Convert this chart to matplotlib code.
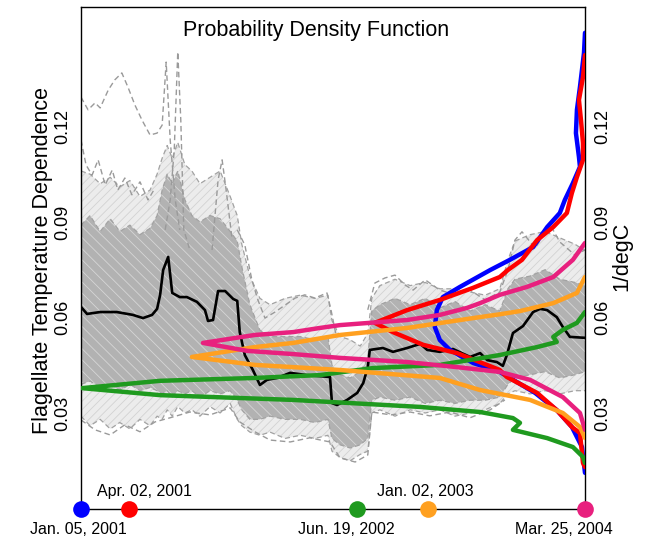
import matplotlib
matplotlib.use("Agg")
import matplotlib.pyplot as plt

plt.rcParams['font.family'] = ['Liberation Sans', 'DejaVu Sans']
plt.rcParams['hatch.linewidth'] = 0.6

# ---- ensemble envelope (time index 0..100) ----
env_x = [0, 1.8, 3.8, 5.8, 7.7, 9.7, 11.7, 13.7, 15.1, 16.1, 17.1, 18.1, 19.2, 20.6, 22.0, 23.6,
         25.6, 27.6, 29.6, 31.0, 31.9, 33.5, 35.5, 37.5, 40.5, 43.5, 46.4, 49.0, 49.8, 51.4, 53.4, 55.4,
         56.9, 57.7, 59.3, 62.3, 65.3, 68.3, 71.2, 74.2, 77.2, 80.2, 83.1, 84.7, 86.1, 89.1, 92.1, 95.0,
         98.0, 100]
outer_hi = [0.106, 0.105, 0.102, 0.104, 0.101, 0.103, 0.098, 0.100, 0.105, 0.110, 0.114, 0.110, 0.115, 0.108, 0.106, 0.102,
            0.104, 0.106, 0.098, 0.092, 0.083, 0.073, 0.066, 0.064, 0.066, 0.067, 0.066, 0.067, 0.059, 0.054, 0.053, 0.051,
            0.055, 0.066, 0.070, 0.072, 0.070, 0.071, 0.069, 0.069, 0.068, 0.067, 0.069, 0.078, 0.084, 0.086, 0.087, 0.085,
            0.083, 0.081]
core_hi = [0.089, 0.092, 0.087, 0.091, 0.087, 0.089, 0.086, 0.088, 0.092, 0.100, 0.105, 0.102, 0.106, 0.097, 0.092, 0.090,
           0.092, 0.091, 0.087, 0.084, 0.076, 0.064, 0.056, 0.054, 0.054, 0.054, 0.053, 0.054, 0.045, 0.042, 0.041, 0.043,
           0.047, 0.062, 0.064, 0.066, 0.064, 0.066, 0.063, 0.065, 0.062, 0.064, 0.062, 0.069, 0.072, 0.073, 0.075, 0.072,
           0.071, 0.070]
core_lo = [0.039, 0.040, 0.038, 0.039, 0.037, 0.039, 0.037, 0.038, 0.037, 0.036, 0.037, 0.035, 0.037, 0.036, 0.037, 0.035,
           0.037, 0.036, 0.037, 0.034, 0.031, 0.028, 0.028, 0.029, 0.028, 0.028, 0.027, 0.028, 0.022, 0.020, 0.019, 0.020,
           0.022, 0.034, 0.035, 0.034, 0.035, 0.033, 0.034, 0.033, 0.034, 0.034, 0.035, 0.039, 0.041, 0.042, 0.043, 0.041,
           0.042, 0.043]
outer_lo = [0.029, 0.026, 0.028, 0.025, 0.027, 0.025, 0.028, 0.026, 0.029, 0.028, 0.031, 0.029, 0.032, 0.030, 0.031, 0.029,
            0.032, 0.030, 0.033, 0.028, 0.026, 0.024, 0.023, 0.024, 0.022, 0.023, 0.022, 0.023, 0.018, 0.016, 0.015, 0.017,
            0.018, 0.030, 0.031, 0.029, 0.031, 0.030, 0.031, 0.029, 0.030, 0.031, 0.033, 0.036, 0.037, 0.036, 0.037, 0.036,
            0.037, 0.037]

# ---- individual dashed ensemble members that stand out ----
m1_x = [0, 1.4, 2.8, 3.8, 5.4, 6.7, 8.1, 9.3, 10.7, 12.1, 13.7, 15.1, 16.1, 16.9, 17.7, 18.7, 19.6]
m1_y = [0.1292, 0.1252, 0.1274, 0.1258, 0.1314, 0.1346, 0.1368, 0.1324, 0.1267, 0.1220, 0.1173, 0.1179, 0.1204,
        0.1402, 0.1157, 0.0969, 0.0875]
m2_x = [16.7, 17.7, 18.5, 19.2, 19.8, 20.4, 21.6]
m2_y = [0.0875, 0.0969, 0.1126, 0.1434, 0.1220, 0.0875, 0.0812]
m3_x = [26.0, 27.2, 28.0, 28.8, 30.0]
m3_y = [0.0812, 0.1032, 0.1095, 0.1000, 0.0843]
m4_x = [0, 1.0, 2.2, 3.4, 4.8, 6.2, 7.3, 8.7, 10.1, 11.7, 13.3, 14.7]
m4_y = [0.1157, 0.1079, 0.1047, 0.1095, 0.1016, 0.1063, 0.1000, 0.1038, 0.0985, 0.1026, 0.0969, 0.1007]
m5_x = [31.0, 32.5, 33.9, 35.1, 36.5, 38.5, 40.5, 42.5, 44.4, 46.4, 48.8, 49.6, 50.6]
m5_y = [0.0875, 0.0828, 0.0718, 0.0655, 0.0598, 0.0617, 0.0639, 0.0661, 0.0671, 0.0661, 0.0677, 0.0624, 0.0545]
m6_x = [0, 2.8, 5.8, 8.7, 11.7, 14.7, 17.7, 21.6, 25.6, 29.6, 31.5, 34.5, 37.5, 41.5, 45.4, 49.4, 51.4, 54.4,
        56.9, 57.7, 61.5, 65.3, 69.2, 73.2, 77.2, 81.2, 84.1]
m6_y = [0.0278, 0.0247, 0.0231, 0.0263, 0.0241, 0.0272, 0.0285, 0.0303, 0.0294, 0.0316, 0.0272, 0.0241, 0.0215,
        0.0209, 0.0222, 0.0209, 0.0159, 0.0146, 0.0168, 0.0303, 0.0294, 0.0303, 0.0291, 0.0303, 0.0285, 0.0310, 0.0341]
m7_x = [56.9, 58.3, 60.3, 62.3, 64.3, 65.9, 68.3, 71.2, 74.2, 77.2, 80.2, 83.1, 84.7, 86.1, 87.5, 90.1, 93.1,
        95.0, 98.0, 100]
m7_y = [0.0624, 0.0708, 0.0724, 0.0733, 0.0702, 0.0686, 0.0718, 0.0686, 0.0671, 0.0686, 0.0655, 0.0680, 0.0749,
        0.0843, 0.0869, 0.0818, 0.0891, 0.0837, 0.0796, 0.0812]
members = [(m1_x, m1_y), (m2_x, m2_y), (m3_x, m3_y), (m4_x, m4_y),
           (m5_x, m5_y), (m6_x, m6_y), (m7_x, m7_y)]

# ---- ensemble median (black) ----
med_x = [0.0, 1.2, 3.8, 7.1, 10.3, 12.3, 14.1, 15.1, 15.7, 16.3, 17.3, 18.1, 19.6, 21.0, 23.0, 24.6, 25.2, 26.2,
         27.2, 28.6, 30.2, 31.0, 31.5, 32.5, 34.1, 35.5, 36.9, 38.9, 41.5, 44.8, 49.4, 49.8, 50.8, 52.8, 54.8, 56.0,
         56.9, 57.3, 59.9, 61.9, 64.7, 67.3, 68.7, 71.2, 73.8, 77.2, 79.2, 80.6, 82.5, 83.7, 84.5, 85.7, 87.7, 89.7,
         91.1, 92.5, 94.4, 95.6, 97.0, 100.0]
med_y = [0.0633, 0.0611, 0.0617, 0.0617, 0.0608, 0.0598, 0.0608, 0.0627, 0.0671, 0.0749, 0.0790, 0.0677, 0.0664,
         0.0664, 0.0649, 0.0623, 0.0589, 0.0592, 0.0683, 0.0683, 0.0658, 0.0652, 0.0554, 0.0482, 0.0435, 0.0388,
         0.0404, 0.0410, 0.0426, 0.0419, 0.0413, 0.0331, 0.0325, 0.0341, 0.0363, 0.0394, 0.0444, 0.0498, 0.0504,
         0.0492, 0.0504, 0.0517, 0.0498, 0.0492, 0.0501, 0.0476, 0.0488, 0.0466, 0.0460, 0.0448, 0.0482, 0.0551,
         0.0573, 0.0617, 0.0627, 0.0623, 0.0601, 0.0570, 0.0539, 0.0536]

# ---- probability densities (relative, % of plot width) at each date ----
blue_y = [0.1494, 0.1431, 0.1324, 0.1252, 0.1179, 0.1104, 0.1073, 0.1022, 0.0969, 0.0928, 0.0884, 0.0821, 0.0781,
          0.0749, 0.0696, 0.0664, 0.0623, 0.0570, 0.0529, 0.0498, 0.0457, 0.0429, 0.0363, 0.0309, 0.0256, 0.0193, 0.0112]
blue_d = [0, 0.2, 1.0, 1.6, 1.8, 1.2, 1.0, 2.4, 4.0, 5.0, 7.5, 10.3, 14.9, 18.8, 24.8, 28.2, 29.4, 29.8, 28.8, 26.8,
          22.2, 16.9, 9.9, 5.6, 2.6, 0.6, 0]
red_y = [0.1424, 0.1355, 0.1283, 0.1220, 0.1148, 0.1095, 0.1041, 0.0991, 0.0928, 0.0884, 0.0843, 0.0781, 0.0749,
         0.0727, 0.0693, 0.0655, 0.0623, 0.0583, 0.0554, 0.0514, 0.0488, 0.0435, 0.0413, 0.0363, 0.0309, 0.0256,
         0.0237, 0.0143, 0.0130]
red_d = [0, 0.4, 1.2, 0.8, 0.4, 0.4, 1.6, 2.6, 3.6, 6.3, 9.5, 12.5, 15.3, 16.9, 22.2, 28.8, 35.3, 41.7, 38.1, 32.1,
         25.4, 16.9, 15.5, 9.5, 5.6, 2.6, 1.0, 0.4, 0]
green_y = [0.0617, 0.0583, 0.0561, 0.0539, 0.0523, 0.0507, 0.0482, 0.0451, 0.0441, 0.0419, 0.0410, 0.0401, 0.0378,
           0.0356, 0.0347, 0.0341, 0.0319, 0.0303, 0.0284, 0.0269, 0.0247, 0.0221, 0.0193, 0.0162, 0.0143]
green_d = [0, 1.6, 4.4, 6.3, 5.6, 9.5, 16.9, 28.8, 42.1, 52.6, 65.5, 84.3, 99.8, 84.3, 68.5, 57.9, 32.7, 20.8, 14.3,
           12.9, 14.3, 7.5, 2.4, 0.4, 0]
orange_y = [0.0727, 0.0677, 0.0645, 0.0620, 0.0610, 0.0598, 0.0567, 0.0545, 0.0520, 0.0507, 0.0476, 0.0451, 0.0444,
            0.0435, 0.0410, 0.0372, 0.0341, 0.0300, 0.0256, 0.0221]
orange_d = [0, 1.6, 6.3, 12.9, 16.9, 22.2, 35.3, 48.6, 57.9, 65.5, 78.0, 65.5, 57.9, 48.6, 28.8, 20.8, 10.9, 4.4,
            1.0, 0]
pink_y = [0.0834, 0.0781, 0.0727, 0.0696, 0.0671, 0.0645, 0.0630, 0.0608, 0.0592, 0.0576, 0.0567, 0.0554, 0.0545,
          0.0520, 0.0495, 0.0485, 0.0473, 0.0460, 0.0444, 0.0429, 0.0404, 0.0350, 0.0300, 0.0247]
pink_d = [0, 2.4, 6.3, 11.5, 16.9, 20.8, 23.4, 28.8, 35.3, 48.6, 52.6, 57.9, 65.5, 75.8, 67.0, 57.9, 48.6, 35.3,
          25.4, 16.9, 10.9, 4.4, 1.0, 0]

# ---- dates on the time line ----
event_labels = ["Jan. 05, 2001", "Apr. 02, 2001", "Jun. 19, 2002", "Jan. 02, 2003", "Mar. 25, 2004"]
event_pos = [0.0, 9.5, 54.8, 68.8, 100.0]
event_colors = ['#0000ff', '#ff0000', '#1f9a1f', '#ffa020', '#e8207e']
pdfs = [(blue_y, blue_d), (red_y, red_d), (green_y, green_d), (orange_y, orange_d), (pink_y, pink_d)]

yticks = [0.03, 0.06, 0.09, 0.12]

fig = plt.figure(figsize=(6.49, 5.39), dpi=100)
ax = fig.add_axes([81 / 649, 30.5 / 539, 504 / 649, 501.5 / 539])
ax.set_xlim(0, 100)
ax.set_ylim(0, 0.1575)

# gray ensemble: sparse outer band, dense core, dashed boundary members
ax.fill_between(env_x, outer_lo, outer_hi, facecolor='#ececec', edgecolor='#d2d2d2',
                hatch='////', lw=0, zorder=1)
ax.fill_between(env_x, core_lo, core_hi, facecolor='#b2b2b2', edgecolor='#d6d6d6',
                hatch='\\\\\\', lw=0, zorder=1)
for yy in (outer_hi, outer_lo, core_hi, core_lo):
    ax.plot(env_x, yy, color='#a2a2a2', lw=0.9, dashes=(4, 2.5), zorder=2)
for mx, my in members:
    ax.plot(mx, my, color='#9a9a9a', lw=1.0, dashes=(4, 2.5), zorder=2)

# median
ax.plot(med_x, med_y, color='black', lw=1.9, zorder=3)

# pdfs drawn from the right edge
PDF_SCALE = 1.0
for (py, pd_), c in zip(pdfs, event_colors):
    ax.plot([100 - d * PDF_SCALE for d in pd_], py, color=c, lw=3.2,
            solid_capstyle='round', solid_joinstyle='round', zorder=4)

# time line with dots
for p, c in zip(event_pos, event_colors):
    ax.plot([p], [0], marker='o', ms=12, color=c, mec='none', zorder=6, clip_on=False)

offsets = [(-2, -15), (11.5, 12), (-8, -15), (-2, 12), (-15, -15)]
for lab, p, off in zip(event_labels, event_pos, offsets):
    ax.annotate(lab, (p, 0), xytext=off, textcoords='offset points',
                ha='center', va='center', fontsize=11.5, annotation_clip=False)

ax.set_yticks(yticks)
ax.set_yticklabels([f"{t:.2f}" for t in yticks])
ax.tick_params(axis='y', length=0, labelsize=13, pad=7, right=False, labelright=True)
ax.set_xticks([])
for lab in ax.get_yticklabels(which='both'):
    lab.set_rotation(90)
    lab.set_va('center')

for s in ax.spines.values():
    s.set_linewidth(1.0)

ax.text(0.466, 0.954, "Probability Density Function", transform=ax.transAxes,
        ha='center', va='center', fontsize=15.5)
ax.text(-0.077, 0.4955, "Flagellate Temperature Dependence", transform=ax.transAxes,
        rotation=90, ha='center', va='center', fontsize=15.5)
ax.text(1.073, 0.503, "1/degC", transform=ax.transAxes,
        rotation=90, ha='center', va='center', fontsize=15.5)

fig.savefig("out.png", dpi=100)
